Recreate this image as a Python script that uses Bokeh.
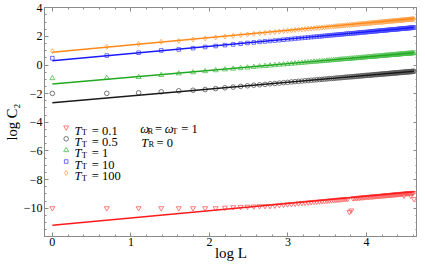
import numpy as np
from bokeh.plotting import figure
from bokeh.models import LinearAxis, FixedTicker, CustomJSTickFormatter, Range1d
from bokeh.core.properties import value
from bokeh.embed import file_html
from bokeh.resources import INLINE

# ---------------- data ----------------
L = list(range(1, 101))
tt_labels = ["0.1", "0.5", "1", "10", "100"]
x_ticks = [0, 1, 2, 3, 4]
y_ticks = [-10, -8, -6, -4, -2, 0, 2, 4]

c2_tt01 = [-10.00, -10.00, -10.00, -10.00, -10.00, -10.00, -10.00, -10.00, -9.96, -9.93,
           -9.91, -9.89, -9.88, -9.86, -9.85, -9.85, -9.82, -9.79, -9.76, -9.73,
           -9.71, -9.69, -9.66, -9.64, -9.62, -9.60, -9.58, -9.56, -9.55, -9.53,
           -9.51, -9.50, -9.48, -9.47, -9.45, -9.44, -9.42, -9.41, -9.40, -9.38,
           -9.37, -9.36, -9.35, -10.27, -10.16, -9.31, -9.30, -9.29, -9.28, -9.27,
           -9.26, -9.25, -9.24, -9.23, -9.22, -9.21, -9.20, -9.20, -9.19, -9.18,
           -9.17, -9.16, -9.15, -9.15, -9.14, -9.13, -9.12, -9.12, -9.11, -9.10,
           -9.09, -9.09, -9.08, -9.07, -9.07, -9.06, -9.05, -9.05, -9.04, -9.03,
           -9.03, -9.02, -9.01, -9.01, -9.00, -9.00, -8.99, -9.12, -8.98, -8.97,
           -8.97, -8.96, -8.96, -8.95, -8.95, -9.13, -8.94, -8.93, -8.93, -9.36]

c2_tt05 = [-1.98, -1.98, -1.94, -1.87, -1.80, -1.76, -1.71, -1.65, -1.59, -1.54,
           -1.49, -1.45, -1.41, -1.38, -1.35, -1.31, -1.29, -1.26, -1.23, -1.21,
           -1.18, -1.16, -1.14, -1.12, -1.10, -1.08, -1.06, -1.05, -1.03, -1.01,
           -1.00, -0.98, -0.97, -0.95, -0.94, -0.93, -0.91, -0.90, -0.89, -0.88,
           -0.86, -0.85, -0.84, -0.83, -0.82, -0.81, -0.80, -0.79, -0.78, -0.77,
           -0.76, -0.75, -0.74, -0.73, -0.72, -0.72, -0.71, -0.70, -0.69, -0.68,
           -0.67, -0.67, -0.66, -0.65, -0.64, -0.64, -0.63, -0.62, -0.62, -0.61,
           -0.60, -0.60, -0.59, -0.58, -0.58, -0.57, -0.56, -0.56, -0.55, -0.55,
           -0.54, -0.53, -0.53, -0.52, -0.52, -0.51, -0.51, -0.50, -0.49, -0.49,
           -0.48, -0.48, -0.47, -0.47, -0.46, -0.46, -0.45, -0.45, -0.44, -0.44]

c2_tt1 = [-0.92, -0.90, -0.84, -0.70, -0.59, -0.51, -0.43, -0.37, -0.31, -0.26,
          -0.22, -0.18, -0.14, -0.10, -0.07, -0.04, -0.01, 0.02, 0.04, 0.07,
          0.09, 0.11, 0.13, 0.15, 0.17, 0.19, 0.21, 0.23, 0.24, 0.26,
          0.27, 0.29, 0.30, 0.32, 0.33, 0.35, 0.36, 0.37, 0.38, 0.40,
          0.41, 0.42, 0.43, 0.44, 0.45, 0.46, 0.47, 0.48, 0.49, 0.50,
          0.51, 0.52, 0.53, 0.54, 0.55, 0.56, 0.56, 0.57, 0.58, 0.59,
          0.60, 0.60, 0.61, 0.62, 0.63, 0.63, 0.64, 0.65, 0.66, 0.66,
          0.67, 0.68, 0.68, 0.69, 0.70, 0.70, 0.71, 0.71, 0.72, 0.73,
          0.73, 0.74, 0.74, 0.75, 0.76, 0.76, 0.77, 0.77, 0.78, 0.78,
          0.79, 0.79, 0.80, 0.80, 0.81, 0.81, 0.82, 0.82, 0.83, 0.83]

c2_tt10 = [0.48, 0.66, 0.86, 1.02, 1.09, 1.18, 1.26, 1.33, 1.39, 1.44,
           1.49, 1.54, 1.58, 1.62, 1.65, 1.68, 1.71, 1.74, 1.77, 1.80,
           1.82, 1.85, 1.87, 1.89, 1.91, 1.93, 1.95, 1.97, 1.99, 2.00,
           2.02, 2.04, 2.05, 2.07, 2.08, 2.10, 2.11, 2.13, 2.14, 2.15,
           2.16, 2.18, 2.19, 2.20, 2.21, 2.22, 2.23, 2.24, 2.25, 2.27,
           2.28, 2.29, 2.29, 2.30, 2.31, 2.32, 2.33, 2.34, 2.35, 2.36,
           2.37, 2.37, 2.38, 2.39, 2.40, 2.41, 2.41, 2.42, 2.43, 2.44,
           2.44, 2.45, 2.46, 2.47, 2.47, 2.48, 2.49, 2.49, 2.50, 2.50,
           2.51, 2.52, 2.52, 2.53, 2.54, 2.54, 2.55, 2.55, 2.56, 2.57,
           2.57, 2.58, 2.58, 2.59, 2.59, 2.60, 2.60, 2.61, 2.61, 2.62]

c2_tt100 = [0.97, 1.27, 1.47, 1.63, 1.69, 1.78, 1.86, 1.93, 1.99, 2.04,
            2.09, 2.14, 2.18, 2.22, 2.25, 2.28, 2.31, 2.34, 2.37, 2.40,
            2.42, 2.45, 2.47, 2.49, 2.51, 2.53, 2.55, 2.57, 2.59, 2.60,
            2.62, 2.64, 2.65, 2.67, 2.68, 2.70, 2.71, 2.73, 2.74, 2.75,
            2.76, 2.78, 2.79, 2.80, 2.81, 2.82, 2.83, 2.84, 2.85, 2.87,
            2.88, 2.89, 2.89, 2.90, 2.91, 2.92, 2.93, 2.94, 2.95, 2.96,
            2.97, 2.97, 2.98, 2.99, 3.00, 3.01, 3.01, 3.02, 3.03, 3.04,
            3.04, 3.05, 3.06, 3.07, 3.07, 3.08, 3.09, 3.09, 3.10, 3.10,
            3.11, 3.12, 3.12, 3.13, 3.14, 3.14, 3.15, 3.15, 3.16, 3.17,
            3.17, 3.18, 3.18, 3.19, 3.19, 3.20, 3.20, 3.21, 3.21, 3.22]

# fitted straight lines: value at log L = log 1 and at log L = log 100
fit_start = [-11.19, -2.64, -1.33, 0.30, 0.90]
fit_end = [-8.86, -0.44, 0.86, 2.63, 3.25]

series = [c2_tt01, c2_tt05, c2_tt1, c2_tt10, c2_tt100]
markers = ["inverted_triangle", "circle", "triangle", "square", "diamond"]
msizes = [5, 4.6, 5, 3.6, 5]
mcolors = ["#ff5a5a", "#555555", "#4cbf4c", "#4848ff", "#ffa04a"]
lcolors = ["#ff1a1a", "#1a1a1a", "#22a822", "#1a1aff", "#ff8a1a"]

# ---------------- figure ----------------
FONT = "Liberation Serif"
GRAY = "#8a8a8a"
logL = np.log(np.array(L, dtype=float))

p = figure(width=417, height=266, output_backend="svg", toolbar_location=None,
           x_range=Range1d(-0.1, 4.65), y_range=Range1d(-11.98, 4.02),
           min_border_left=0, min_border_right=0, min_border_top=7,
           min_border_bottom=30)
p.xgrid.visible = False
p.ygrid.visible = False
p.outline_line_color = GRAY
p.background_fill_color = "white"
p.border_fill_color = "white"

fmt = CustomJSTickFormatter(code="return tick < 0 ? '\u2212' + String(-tick) : String(tick);")
blank = CustomJSTickFormatter(code="return '';")

x_minor = [i * 0.2 for i in range(-1, 24)]
y_minor = [-12 + i * 0.5 for i in range(0, 33)]


def make_ticker(major, minor):
    return FixedTicker(ticks=major, minor_ticks=minor)


def style_axis(ax, labels=True):
    ax.axis_line_color = GRAY
    ax.major_tick_line_color = GRAY
    ax.minor_tick_line_color = GRAY
    ax.major_tick_in = 4
    ax.major_tick_out = 0
    ax.minor_tick_in = 2
    ax.minor_tick_out = 0
    if labels:
        ax.major_label_text_font = FONT
        ax.major_label_text_font_size = "12px"
        ax.major_label_text_color = "black"
        ax.axis_label_text_font = FONT
        ax.axis_label_text_font_style = "normal"
        ax.axis_label_text_color = "black"
        ax.formatter = fmt
    else:
        ax.formatter = blank
        ax.major_label_text_font_size = "1px"
        ax.major_label_standoff = 0


p.xaxis.ticker = make_ticker(x_ticks, x_minor)
p.yaxis.ticker = make_ticker(y_ticks, y_minor)
p.xaxis.axis_label = "log L"
p.yaxis.axis_label = "log C\u2082"
style_axis(p.xaxis[0])
style_axis(p.yaxis[0])
p.xaxis.major_label_standoff = 1
p.xaxis.axis_label_standoff = -4
p.xaxis.axis_label_text_font_size = "15px"
p.yaxis.major_label_standoff = 2
p.yaxis.axis_label_standoff = 1
p.yaxis.axis_label_text_font_size = "14.5px"

top = LinearAxis(ticker=make_ticker(x_ticks, x_minor))
right = LinearAxis(ticker=make_ticker(y_ticks, y_minor))
style_axis(top, labels=False)
style_axis(right, labels=False)
p.add_layout(top, "above")
p.add_layout(right, "right")

# data points then fit lines
for ys, mk, ms, mc in zip(series, markers, msizes, mcolors):
    p.scatter(logL, ys, marker=mk, size=ms, fill_color=None, line_color=mc, line_width=0.8)
for a, b, lc in zip(fit_start, fit_end, lcolors):
    p.line([logL[0], logL[-1]], [a, b], line_color=lc, line_width=1.5)

# ---------------- legend / annotation (layout positions) ----------------
def X(px):
    return (px - 51.0) / 79.5


def Y(py):
    return (60.3 - py) / 14.67


def txt(px, py, s, size="12.5px", style="normal"):
    p.text(x=[X(px)], y=[Y(py)], text=[s], text_font=value(FONT), text_font_size=size,
           text_font_style=style, text_color="black", text_baseline="alphabetic",
           text_align="left")


row_base = [127.5, 139.2, 150.9, 162.5, 174.2]
for lab, base, mk, ms, mc in zip(tt_labels, row_base, markers, msizes, mcolors):
    p.scatter([X(65)], [Y(base - 3.3)], marker=mk, size=ms, fill_color=None,
              line_color=mc, line_width=0.8)
    txt(73.3, base, "T", style="italic")
    txt(80.8, base + 1.6, "T", size="8.5px")
    txt(91.0, base, "= " + lab)

txt(140.0, 125.9, "\u03c9", style="italic")
txt(147.3, 127.5, "R", size="8.5px")
txt(155.0, 125.9, "=")
txt(164.8, 125.9, "\u03c9", style="italic")
txt(172.3, 127.5, "T", size="8.5px")
txt(181.5, 125.9, "= 1")
txt(141.0, 139.9, "T", style="italic")
txt(148.3, 141.5, "R", size="8.5px")
txt(156.5, 139.9, "= 0")

open("out.html", "w").write(file_html(p, INLINE))
